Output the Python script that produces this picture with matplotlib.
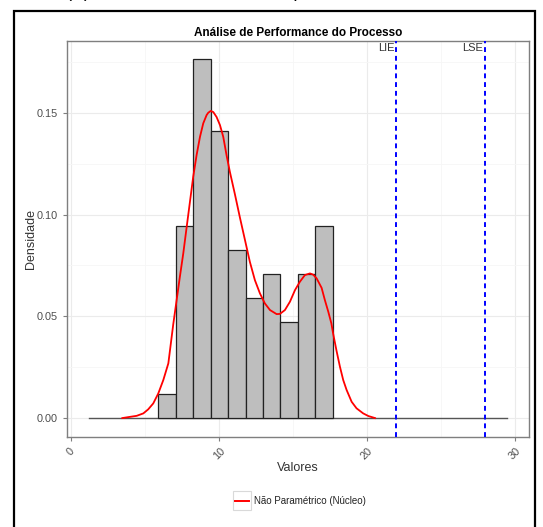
import numpy as np
import matplotlib
matplotlib.use("Agg")
import matplotlib.pyplot as plt
import matplotlib.transforms as mtransforms
from matplotlib.patches import Rectangle
from matplotlib.lines import Line2D

plt.rcParams['font.family'] = ['Liberation Sans', 'DejaVu Sans']

# histogram (density scale)
bin_width = 1.18
bin_left = [5.90, 7.08, 8.26, 9.44, 10.62, 11.80, 12.98, 14.16, 15.34, 16.52]
dens = [0.0118, 0.0942, 0.1766, 0.1413, 0.0824, 0.0589, 0.0706, 0.0471, 0.0706, 0.0942]

# kernel density curve
kde_x = [3.47, 3.99, 4.44, 4.89, 5.22, 5.56, 5.90, 6.24, 6.58, 6.91, 7.14, 7.36,
         7.59, 7.82, 8.04, 8.26, 8.49, 8.72, 8.94, 9.17, 9.28, 9.45, 9.62, 9.84,
         10.07, 10.29, 10.52, 10.74, 11.08, 11.42, 11.76, 12.09, 12.43, 12.77,
         13.10, 13.45, 13.90, 14.12, 14.46, 14.80, 15.14, 15.47, 15.81, 16.15,
         16.37, 16.60, 16.94, 17.16, 17.39, 17.60, 17.72, 17.95, 18.18, 18.40,
         18.63, 18.97, 19.30, 19.75, 20.10, 20.55]
kde_y = [0.0000, 0.0006, 0.0011, 0.0023, 0.0043, 0.0072, 0.0121, 0.0187, 0.0269,
         0.0460, 0.0580, 0.0695, 0.0810, 0.0940, 0.1063, 0.1186, 0.1293, 0.1383,
         0.1449, 0.1490, 0.1501, 0.1510, 0.1504, 0.1480, 0.1440, 0.1383, 0.1290,
         0.1210, 0.1100, 0.0985, 0.0875, 0.0768, 0.0678, 0.0613, 0.0564, 0.0531,
         0.0511, 0.0512, 0.0531, 0.0572, 0.0629, 0.0670, 0.0703, 0.0711, 0.0705,
         0.0687, 0.0640, 0.0580, 0.0523, 0.0465, 0.0415, 0.0330, 0.0252, 0.0187,
         0.0138, 0.0080, 0.0048, 0.0023, 0.0010, 0.0000]

zero_span = [1.2, 29.5]
lie = 22.0
lse = 28.0

W, H = 543, 527
fig = plt.figure(figsize=(W / 100, H / 100), dpi=100)
ax = fig.add_axes([0.1234, 0.1708, 0.8506, 0.7512])

# heading cut off at the top edge
fig.text(66 / W, 1 + 3 / H, "(C)", fontsize=13, ha='left', va='baseline')
fig.text(329 / W, 1 + 3 / H, "Índices de capacidade do Processo", fontsize=13,
         ha='center', va='baseline')

# outer frame
fig.patches.append(Rectangle((14 / W, -0.05), (535 - 14) / W, 1.05 - 11 / H,
                             transform=fig.transFigure, fill=False,
                             edgecolor='black', linewidth=1.6))

ax.set_xlim(-0.27, 30.95)
ax.set_ylim(-0.0093, 0.1853)
ax.set_xticks([0, 10, 20, 30])
ax.set_xticks([5, 15, 25], minor=True)
ax.set_yticks([0.0, 0.05, 0.10, 0.15])
ax.set_yticks([0.025, 0.075, 0.125, 0.175], minor=True)
ax.set_yticklabels(["0.00", "0.05", "0.10", "0.15"])
ax.grid(which='major', color='#EBEBEB', linewidth=0.8)
ax.grid(which='minor', color='#F6F6F6', linewidth=0.6)
ax.set_axisbelow(True)

ax.plot(zero_span, [0, 0], color='#555555', linewidth=1.0, zorder=2)
ax.bar(bin_left, dens, width=bin_width, align='edge', color='#BEBEBE',
       edgecolor='#222222', linewidth=0.9, zorder=3)
ax.plot(kde_x, kde_y, color='red', linewidth=1.3, zorder=4,
        solid_joinstyle='round', antialiased=True)

trans = mtransforms.blended_transform_factory(ax.transData, ax.transAxes)
for v, name in [(lie, "LIE"), (lse, "LSE")]:
    ax.axvline(v, color='blue', linewidth=1.4, linestyle=(0, (2.5, 2.0)), zorder=5)
    ax.text(v - 0.15, 0.996, name, transform=trans, ha='right', va='top',
            fontsize=8, color='#333333')

for s in ax.spines.values():
    s.set_color('#7F7F7F')
    s.set_linewidth(1.0)
ax.tick_params(which='major', length=3, color='#7F7F7F', labelsize=7.8,
               labelcolor='#4D4D4D')
ax.tick_params(which='minor', length=0)
for lab in ax.get_xticklabels():
    lab.set_rotation(45)
    lab.set_ha('center')
    lab.set_va('top')

ax.set_xlabel("Valores", fontsize=9, color='#333333', labelpad=0)
ax.set_ylabel("Densidade", fontsize=9, color='#333333', labelpad=0)
ax.set_title("Análise de Performance do Processo", fontsize=8.5,
             fontweight='bold', pad=4)

# legend below the panel
fig.patches.append(Rectangle((233 / W, 1 - 510 / H), 18 / W, 19 / H,
                             transform=fig.transFigure, facecolor='white',
                             edgecolor='#D9D9D9', linewidth=0.8))
fig.add_artist(Line2D([235 / W, 249 / W], [1 - 501 / H, 1 - 501 / H],
                      transform=fig.transFigure, color='red', linewidth=1.4))
fig.text(254 / W, 1 - 501 / H, "Não Paramétrico (Núcleo)", fontsize=7,
         ha='left', va='center', color='#222222')

fig.savefig("out.png", dpi=100)
